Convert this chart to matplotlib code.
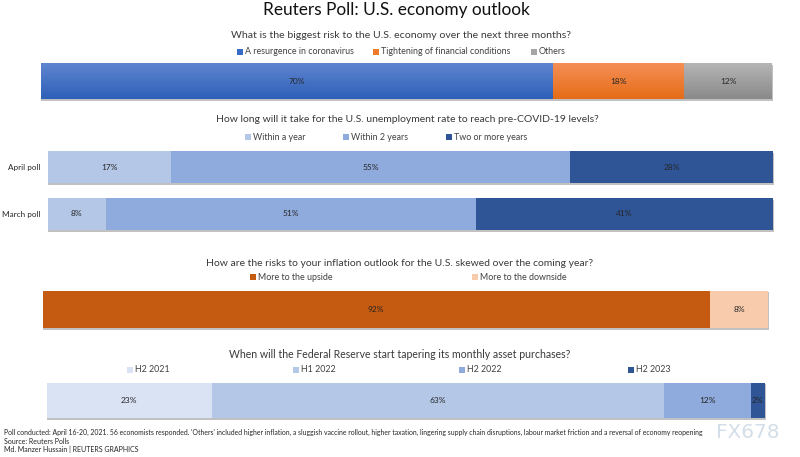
#!/usr/bin/env python3
"""Reuters Poll: U.S. economy outlook - stacked 100% bars."""

import matplotlib
matplotlib.use('Agg')
import matplotlib.pyplot as plt
import matplotlib.patheffects as pe
from matplotlib.colors import LinearSegmentedColormap
import numpy as np

risk_labels = ['A resurgence in coronavirus', 'Tightening of financial conditions', 'Others']
risk_values = [70, 18, 12]

jobs_labels = ['Within a year', 'Within 2 years', 'Two or more years']
jobs_polls = ['April poll', 'March poll']
jobs_april = [17, 55, 28]
jobs_march = [8, 51, 41]

inflation_labels = ['More to the upside', 'More to the downside']
inflation_values = [92, 8]

taper_labels = ['H2 2021', 'H1 2022', 'H2 2022', 'H2 2023']
taper_values = [23, 63, 12, 2]

W, H = 800, 457
TEXT = '#262626'
HEAD = '#3a3a3a'
plt.rcParams['font.family'] = ['Lato', 'DejaVu Sans']

fig = plt.figure(figsize=(W / 100, H / 100), dpi=100, facecolor='white')

# overlay in pixel coordinates, for headings and legends
overlay = fig.add_axes([0, 0, 1, 1], zorder=5)
overlay.set_xlim(0, W)
overlay.set_ylim(H, 0)
overlay.axis('off')


def panel_axes(x0, x1, y0, y1):
    ax = fig.add_axes([x0 / W, 1 - y1 / H, (x1 - x0) / W, (y1 - y0) / H])
    ax.set_xlim(0, 100)
    for s in ax.spines.values():
        s.set_visible(False)
    ax.set_xticks([])
    ax.tick_params(length=0)
    return ax


def stacked(ax, y, values, colors, height):
    left = 0
    bars = []
    for v, c in zip(values, colors):
        bar = ax.barh(y, v, left=left, height=height, color=c, clip_on=False)[0]
        bar.set_path_effects([
            pe.SimplePatchShadow(offset=(0.4, -1.4), shadow_rgbFace='#777777', alpha=0.45),
            pe.Normal(),
        ])
        ax.text(left + v / 2, y, f'{v}%', ha='center', va='center',
                fontsize=6.0, color=TEXT, zorder=6)
        bars.append(bar)
        left += v
    return bars


def legend_row(y, xs, labels, colors):
    for x, lab, c in zip(xs, labels, colors):
        overlay.scatter([x + 2.5], [y], marker='s', s=15, color=c, linewidths=0)
        overlay.text(x + 8, y, lab, ha='left', va='center', fontsize=6.4, color='#404040')


overlay.text(396.5, 9.5, 'Reuters Poll: U.S. economy outlook', ha='center', va='center',
             fontsize=12.4, color='#111111')

# panel 1, bars with a vertical gradient
risk_colors = ['#3f6fc6', '#f07f30', '#a5a5a5']
risk_grads = [('#5f85cf', '#2e60b8'), ('#f58f55', '#e56c18'), ('#b5b5b5', '#8a8a8a')]
overlay.text(401, 36, 'What is the biggest risk to the U.S. economy over the next three months?',
             ha='center', va='center', fontsize=7.55, color=HEAD)
legend_row(52, [237, 373, 531], risk_labels, ['#3a6ac4', '#ee7b2c', '#a5a5a5'])
ax1 = panel_axes(40.5, 772, 63, 99)
ax1.set_yticks([])
ax1.set_ylim(-0.5, 0.5)
bars = stacked(ax1, 0, risk_values, risk_colors, 1)
ramp = np.linspace(0, 1, 64).reshape(-1, 1)
for bar, (top, bottom) in zip(bars, risk_grads):
    cmap = LinearSegmentedColormap.from_list('grad', [top, bottom])
    im = ax1.imshow(ramp, cmap=cmap, aspect='auto', origin='upper', zorder=2,
                    extent=(bar.get_x(), bar.get_x() + bar.get_width(), -0.5, 0.5))
ax1.set_xlim(0, 100)
ax1.set_ylim(-0.5, 0.5)

# panel 2
jobs_colors = ['#b4c7e7', '#8faadc', '#2f5597']
overlay.text(407, 119.5, 'How long will it take for the U.S. unemployment rate to reach pre-COVID-19 levels?',
             ha='center', va='center', fontsize=7.5, color=HEAD)
legend_row(137, [245, 343, 446], jobs_labels, jobs_colors)
ax2 = panel_axes(47.5, 773, 143.75, 237)
ax2.set_ylim(1.5, -0.5)
stacked(ax2, 0, jobs_april, jobs_colors, 0.69)
stacked(ax2, 1, jobs_march, jobs_colors, 0.69)
ax2.set_yticks([0, 1])
ax2.set_yticklabels(jobs_polls, fontsize=5.9, color=TEXT)
ax2.tick_params(axis='y', pad=5.2)

# panel 3
infl_colors = ['#c55a11', '#f8cbad']
overlay.text(400, 263, 'How are the risks to your inflation outlook for the U.S. skewed over the coming year?',
             ha='center', va='center', fontsize=7.5, color=HEAD)
legend_row(277, [250, 472], inflation_labels, infl_colors)
ax3 = panel_axes(42.5, 768, 290.5, 328)
ax3.set_yticks([])
ax3.set_ylim(-0.5, 0.5)
stacked(ax3, 0, inflation_values, infl_colors, 1)

# panel 4
taper_colors = ['#dae3f3', '#b4c7e7', '#8faadc', '#2f5597']
overlay.text(400, 354, 'When will the Federal Reserve start tapering its monthly asset purchases?',
             ha='center', va='center', fontsize=7.6, color=HEAD)
legend_row(370, [127, 293, 459, 628], taper_labels, taper_colors)
ax4 = panel_axes(46.5, 765, 382.5, 418)
ax4.set_yticks([])
ax4.set_ylim(-0.5, 0.5)
stacked(ax4, 0, taper_values, taper_colors, 1)

# footnote
foot = [
    "Poll conducted: April 16-20, 2021. 56 economists responded. 'Others' included higher inflation, a sluggish "
    "vaccine rollout, higher taxation, lingering supply chain disruptions, labour market friction and a reversal "
    "of economy reopening",
    'Source: Reuters Polls',
    'Md. Manzer Hussain | REUTERS GRAPHICS',
]
foot_sizes = [4.97, 5.05, 5.05]
for y, line, size in zip([432.5, 441, 449], foot, foot_sizes):
    overlay.text(3.5, y, line, ha='left', va='center', fontsize=size, color=TEXT)

# watermark
overlay.text(716, 433, 'FX678', ha='left', va='center', fontsize=14.4, color='#d3dee8',
             family='DejaVu Sans')

fig.savefig('out.png', dpi=100)
